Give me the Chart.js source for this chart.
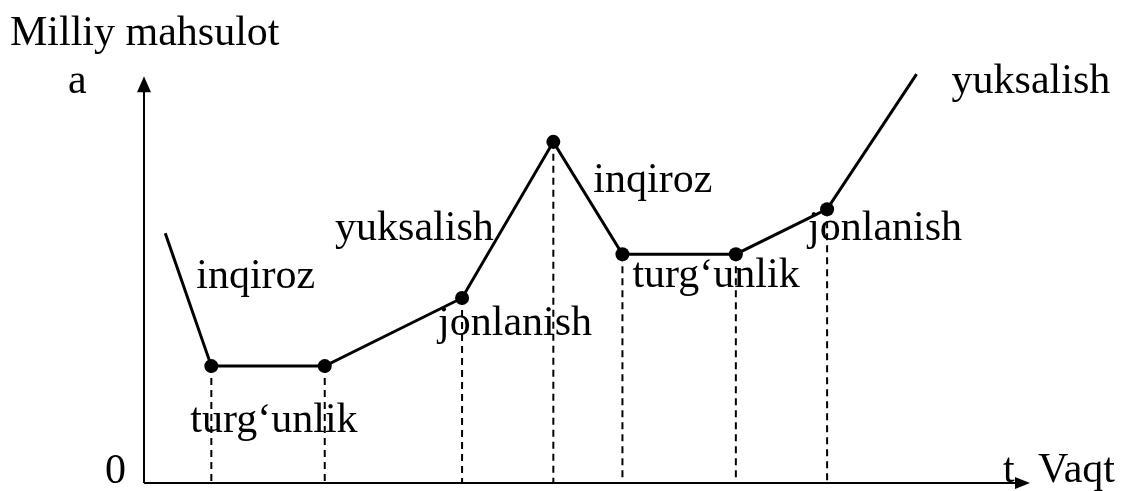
<!DOCTYPE html>
<html>
<head>
<meta charset="utf-8">
<script src="https://cdn.jsdelivr.net/npm/chart.js@4.4.1/dist/chart.umd.min.js"></script>
<style>
  html, body { margin: 0; padding: 0; background: #fff; }
  #wrap { width: 1129px; height: 491px; position: relative; }
</style>
</head>
<body>
<div id="wrap"><canvas id="cycle"></canvas></div>
<script>
// business cycle path (time, national product)
const timeValues = [0.24, 0.76, 2.04, 3.59, 4.62, 5.40, 6.68, 7.71, 8.72];
const productValues = [6.05, 2.83, 2.83, 4.48, 8.26, 5.54, 5.54, 6.63, 9.90];
const markedPoints = [1, 2, 3, 4, 5, 6, 7];

// phase names, attached to a point index
const phaseNames = ["inqiroz", "turg‘unlik", "yuksalish", "jonlanish", "inqiroz", "turg‘unlik", "jonlanish", "yuksalish"];
const phasePoint = [0, 1, 3, 3, 4, 5, 7, 8];

const axisTitleY = "Milliy mahsulot";
const axisTitleX = "Vaqt";
const axisMax = { x: 10, y: 9.85 };

// label layout (pixel offsets from the anchor point)
const phaseOffsets = [[31, 55], [-21, 66], [-127, -58], [-24, 37], [40, 50], [10, 33], [-19, 31], [35, 19]];

const FONT = "42px 'Liberation Serif', 'Times New Roman', serif";

const pathData = timeValues.map((x, i) => ({ x, y: productValues[i] }));

const dropLines = markedPoints.map((i) => ({
  data: [{ x: timeValues[i], y: productValues[i] }, { x: timeValues[i], y: 0 }],
  borderColor: "#000",
  borderWidth: 2,
  borderDash: [7, 5],
  pointRadius: 0,
  order: 2,
}));

function arrow(ctx, x, y, dir) {
  ctx.beginPath();
  if (dir === "up") {
    ctx.moveTo(x, y);
    ctx.lineTo(x - 7, y + 16);
    ctx.lineTo(x + 7, y + 16);
  } else {
    ctx.moveTo(x, y);
    ctx.lineTo(x - 15, y - 6);
    ctx.lineTo(x - 15, y + 6);
  }
  ctx.closePath();
  ctx.fill();
}

const axesAndText = {
  id: "axesAndText",
  beforeDatasetsDraw(chart) {
    const { ctx, scales } = chart;
    const x0 = scales.x.getPixelForValue(0);
    const y0 = scales.y.getPixelForValue(0);
    const xEnd = scales.x.getPixelForValue(axisMax.x);
    const yEnd = scales.y.getPixelForValue(axisMax.y);
    ctx.save();
    ctx.strokeStyle = "#000";
    ctx.fillStyle = "#000";
    ctx.lineWidth = 2;
    ctx.beginPath();
    ctx.moveTo(x0, y0);
    ctx.lineTo(x0, yEnd + 12);
    ctx.moveTo(x0, y0);
    ctx.lineTo(xEnd - 12, y0);
    ctx.stroke();
    arrow(ctx, x0, yEnd, "up");
    arrow(ctx, xEnd, y0, "right");
    ctx.restore();
  },
  afterDraw(chart) {
    const { ctx, scales } = chart;
    const x0 = scales.x.getPixelForValue(0);
    const y0 = scales.y.getPixelForValue(0);
    const xEnd = scales.x.getPixelForValue(axisMax.x);
    ctx.save();
    ctx.fillStyle = "#000";
    ctx.font = FONT;
    ctx.textBaseline = "alphabetic";
    ctx.textAlign = "left";
    ctx.fillText(axisTitleY, 10, 45);
    ctx.fillText("a", x0 - 76, 93);
    ctx.fillText("0", x0 - 39, y0);
    ctx.fillText("t", xEnd - 27, y0 - 1);
    ctx.fillText(axisTitleX, xEnd + 8, y0 - 1);
    phaseNames.forEach((name, i) => {
      const p = phasePoint[i];
      const px = scales.x.getPixelForValue(timeValues[p]);
      const py = scales.y.getPixelForValue(productValues[p]);
      ctx.fillText(name, px + phaseOffsets[i][0], py + phaseOffsets[i][1]);
    });
    ctx.restore();
  },
};

new Chart(document.getElementById("cycle"), {
  type: "line",
  data: {
    datasets: [
      {
        data: pathData,
        borderColor: "#000",
        backgroundColor: "#000",
        borderWidth: 3,
        pointRadius: pathData.map((_, i) => (markedPoints.includes(i) ? 7 : 0)),
        pointBackgroundColor: "#000",
        pointBorderWidth: 0,
        tension: 0,
        order: 1,
      },
      ...dropLines,
    ],
  },
  options: {
    responsive: true,
    maintainAspectRatio: false,
    animation: false,
    events: [],
    clip: false,
    layout: { padding: { left: 144, right: 99, top: 70, bottom: 8 } },
    plugins: { legend: { display: false }, tooltip: { enabled: false } },
    scales: {
      x: { type: "linear", min: 0, max: 10, display: false },
      y: { type: "linear", min: 0, max: 10, display: false },
    },
  },
  plugins: [axesAndText],
});
</script>
</body>
</html>
